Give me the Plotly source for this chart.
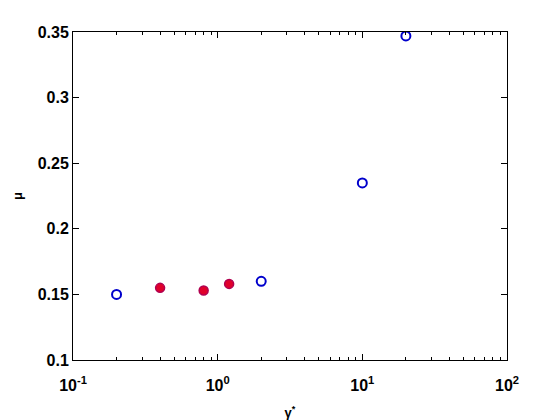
import plotly.graph_objects as go

# data
open_x = [0.2, 2.0, 10.0, 20.0]
open_y = [0.150, 0.160, 0.235, 0.347]
filled_x = [0.4, 0.8, 1.2]
filled_y = [0.155, 0.153, 0.158]

xtick_vals = [0.1, 1, 10, 100]
xtick_text = ["10<sup>-1</sup>", "10<sup>0</sup>", "10<sup>1</sup>", "10<sup>2</sup>"]
minor_vals = [m * d for d in [0.1, 1, 10] for m in range(2, 10)]
ytick_vals = [0.1, 0.15, 0.2, 0.25, 0.3, 0.35]
ytick_text = ["0.1", "0.15", "0.2", "0.25", "0.3", "0.35"]

fig = go.Figure()
fig.add_trace(go.Scatter(
    x=open_x, y=open_y, mode="markers",
    marker=dict(symbol="circle-open", size=9, color="#0000cc", line=dict(width=2, color="#0000cc")),
    showlegend=False))
fig.add_trace(go.Scatter(
    x=filled_x, y=filled_y, mode="markers",
    marker=dict(symbol="circle", size=9, color="#e0002a", line=dict(width=1.5, color="#b00050")),
    showlegend=False))
# invisible trace to anchor the minor-tick overlay axis
fig.add_trace(go.Scatter(x=[0.1, 100], y=[0.1, 0.35], xaxis="x2", mode="markers",
                         marker=dict(opacity=0), hoverinfo="skip", showlegend=False))

fnt = dict(family="Liberation Sans, Arial", size=16, color="black", weight="bold")
lblfnt = dict(family="Liberation Sans, Arial", size=13, color="black", weight="bold")
fig.update_layout(
    width=552, height=412,
    margin=dict(l=65, r=53, t=24, b=60),
    paper_bgcolor="white", plot_bgcolor="white",
    xaxis=dict(type="log", range=[-1, 2], tickvals=xtick_vals, ticktext=xtick_text,
               ticks="inside", ticklen=6, tickcolor="black", showline=True, linecolor="black",
               linewidth=1, mirror="ticks", showgrid=False, zeroline=False, tickfont=fnt,
               ticklabelstandoff=11, automargin=False,
               title=dict(text="γ<sup>*</sup>", font=lblfnt, standoff=17)),
    xaxis2=dict(type="log", range=[-1, 2], overlaying="x", side="bottom", anchor="y",
                tickvals=minor_vals, showticklabels=False,
                ticks="inside", ticklen=3, tickcolor="black", mirror="ticks", showline=False,
                showgrid=False, zeroline=False, automargin=False),
    yaxis=dict(range=[0.1, 0.35], tickvals=ytick_vals, ticktext=ytick_text,
               ticks="inside", ticklen=6, tickcolor="black", showline=True, linecolor="black",
               linewidth=1, mirror="ticks", showgrid=False, zeroline=False, tickfont=fnt,
               automargin=False,
               title=dict(text="μ", font=lblfnt, standoff=12)),
)
fig.write_html("out.html")
